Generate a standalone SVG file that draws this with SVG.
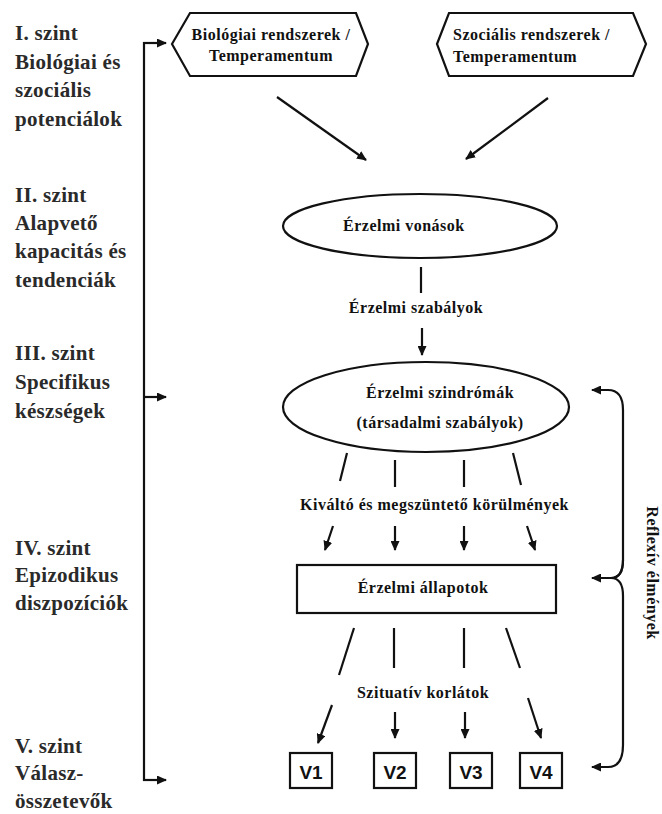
<svg xmlns="http://www.w3.org/2000/svg" width="662" height="814" viewBox="0 0 662 814">
<style>
.lvl{font-family:"Liberation Serif","Times New Roman",serif;font-weight:bold;font-size:21px;fill:#2a2a2a;letter-spacing:0.3px}
.t{font-family:"Liberation Serif","Times New Roman",serif;font-weight:bold;font-size:16px;fill:#111;letter-spacing:0.5px}
.c{text-anchor:middle}
.v{font-family:"Liberation Sans",Arial,sans-serif;font-weight:bold;font-size:19px;fill:#111;text-anchor:middle}
.shape{fill:#fff;stroke:#111;stroke-width:2.2}
.ln{fill:none;stroke:#111;stroke-width:2.2}
.ar{fill:none;stroke:#111;stroke-width:2.2;marker-end:url(#ah)}
</style>
<defs>
<marker id="ah" markerUnits="userSpaceOnUse" markerWidth="10" markerHeight="9" refX="9" refY="4.5" orient="auto">
<path d="M0,0 L10,4.5 L0,9 z" fill="#111"/>
</marker>
</defs>
<rect width="662" height="814" fill="#fff"/>

<g id="levels">
<text class="lvl" x="15" y="40">I. szint</text>
<text class="lvl" x="15" y="69">Biológiai és</text>
<text class="lvl" x="15" y="97">szociális</text>
<text class="lvl" x="15" y="126">potenciálok</text>
<text class="lvl" x="15" y="202">II. szint</text>
<text class="lvl" x="15" y="230">Alapvető</text>
<text class="lvl" x="15" y="258">kapacitás és</text>
<text class="lvl" x="15" y="287">tendenciák</text>
<text class="lvl" x="15" y="360">III. szint</text>
<text class="lvl" x="15" y="389">Specifikus</text>
<text class="lvl" x="15" y="418">készségek</text>
<text class="lvl" x="15" y="555">IV. szint</text>
<text class="lvl" x="15" y="582">Epizodikus</text>
<text class="lvl" x="15" y="610">diszpozíciók</text>
<text class="lvl" x="15" y="753">V. szint</text>
<text class="lvl" x="15" y="780">Válasz-</text>
<text class="lvl" x="15" y="808">összetevők</text>
</g>

<g id="bio">
<polygon class="shape" points="172,44 190,13 356,13 368,44 356,76 190,76"/>
<text class="t c" x="271" y="40">Biológiai rendszerek /</text>
<text class="t c" x="271" y="61">Temperamentum</text>
</g>

<g id="szoc">
<polygon class="shape" points="437,44 449,13 633,13 646,44 633,76 449,76"/>
<text class="t" x="453" y="40">Szociális rendszerek /</text>
<text class="t" x="453" y="62">Temperamentum</text>
</g>

<g id="vonasok">
<ellipse class="shape" cx="420" cy="226" rx="137" ry="32"/>
<text class="t" x="343" y="231">Érzelmi vonások</text>
</g>

<g id="szindromak">
<ellipse class="shape" cx="426" cy="407" rx="143" ry="45"/>
<text class="t c" x="440" y="398">Érzelmi szindrómák</text>
<text class="t c" x="440" y="428">(társadalmi szabályok)</text>
</g>

<g id="allapotok">
<rect class="shape" x="297" y="565" width="259" height="48"/>
<text class="t c" x="423" y="593">Érzelmi állapotok</text>
</g>

<g id="v1"><rect class="shape" x="290" y="753" width="42" height="35"/><text class="v" x="311" y="779">V1</text></g>
<g id="v2"><rect class="shape" x="374" y="753" width="42" height="35"/><text class="v" x="395" y="779">V2</text></g>
<g id="v3"><rect class="shape" x="450" y="753" width="42" height="35"/><text class="v" x="471" y="779">V3</text></g>
<g id="v4"><rect class="shape" x="520" y="753" width="42" height="35"/><text class="v" x="541" y="779">V4</text></g>

<g id="labels">
<text class="t c" x="416" y="313">Érzelmi szabályok</text>
<text class="t" x="300" y="510">Kiváltó és megszüntető körülmények</text>
<text class="t c" x="423" y="698">Szituatív korlátok</text>
<text class="t c" transform="translate(647,573) rotate(90)">Reflexív élmények</text>
</g>

<g id="connectors">
<line class="ar" x1="277" y1="97" x2="366" y2="160"/>
<line class="ar" x1="548" y1="98" x2="466" y2="159"/>
<line class="ln" x1="421" y1="267" x2="421" y2="293"/>
<line class="ar" x1="422" y1="328" x2="422" y2="355"/>

<line class="ln" x1="347" y1="453" x2="340" y2="481"/>
<line class="ln" x1="395" y1="460" x2="395" y2="487"/>
<line class="ln" x1="464" y1="460" x2="464" y2="487"/>
<line class="ln" x1="513" y1="453" x2="521" y2="485"/>
<line class="ar" x1="333" y1="526" x2="325" y2="550"/>
<line class="ar" x1="395" y1="526" x2="395" y2="550"/>
<line class="ar" x1="464" y1="526" x2="464" y2="550"/>
<line class="ar" x1="527" y1="526" x2="535" y2="550"/>

<line class="ln" x1="354" y1="628" x2="339" y2="675"/>
<line class="ln" x1="394" y1="628" x2="394" y2="668"/>
<line class="ln" x1="464" y1="628" x2="464" y2="668"/>
<line class="ln" x1="506" y1="628" x2="520" y2="668"/>
<line class="ar" x1="332" y1="705" x2="318" y2="743"/>
<line class="ar" x1="395" y1="712" x2="395" y2="738"/>
<line class="ar" x1="465" y1="712" x2="465" y2="738"/>
<line class="ar" x1="528" y1="698" x2="541" y2="738"/>

<line class="ln" x1="144" y1="42" x2="144" y2="781"/>
<line class="ar" x1="143" y1="43" x2="166" y2="43"/>
<line class="ar" x1="144" y1="397" x2="166" y2="397"/>
<line class="ar" x1="143" y1="780" x2="166" y2="780"/>

<path class="ar" d="M611,578 Q623,578 623,560 L623,410 Q623,390 608,390 L592,390"/>
<path class="ar" d="M623,560 Q623,578 611,578 L592,578"/>
<path class="ar" d="M611,578 Q623,578 623,596 L623,745 Q623,767 608,767 L592,767"/>
</g>
</svg>
